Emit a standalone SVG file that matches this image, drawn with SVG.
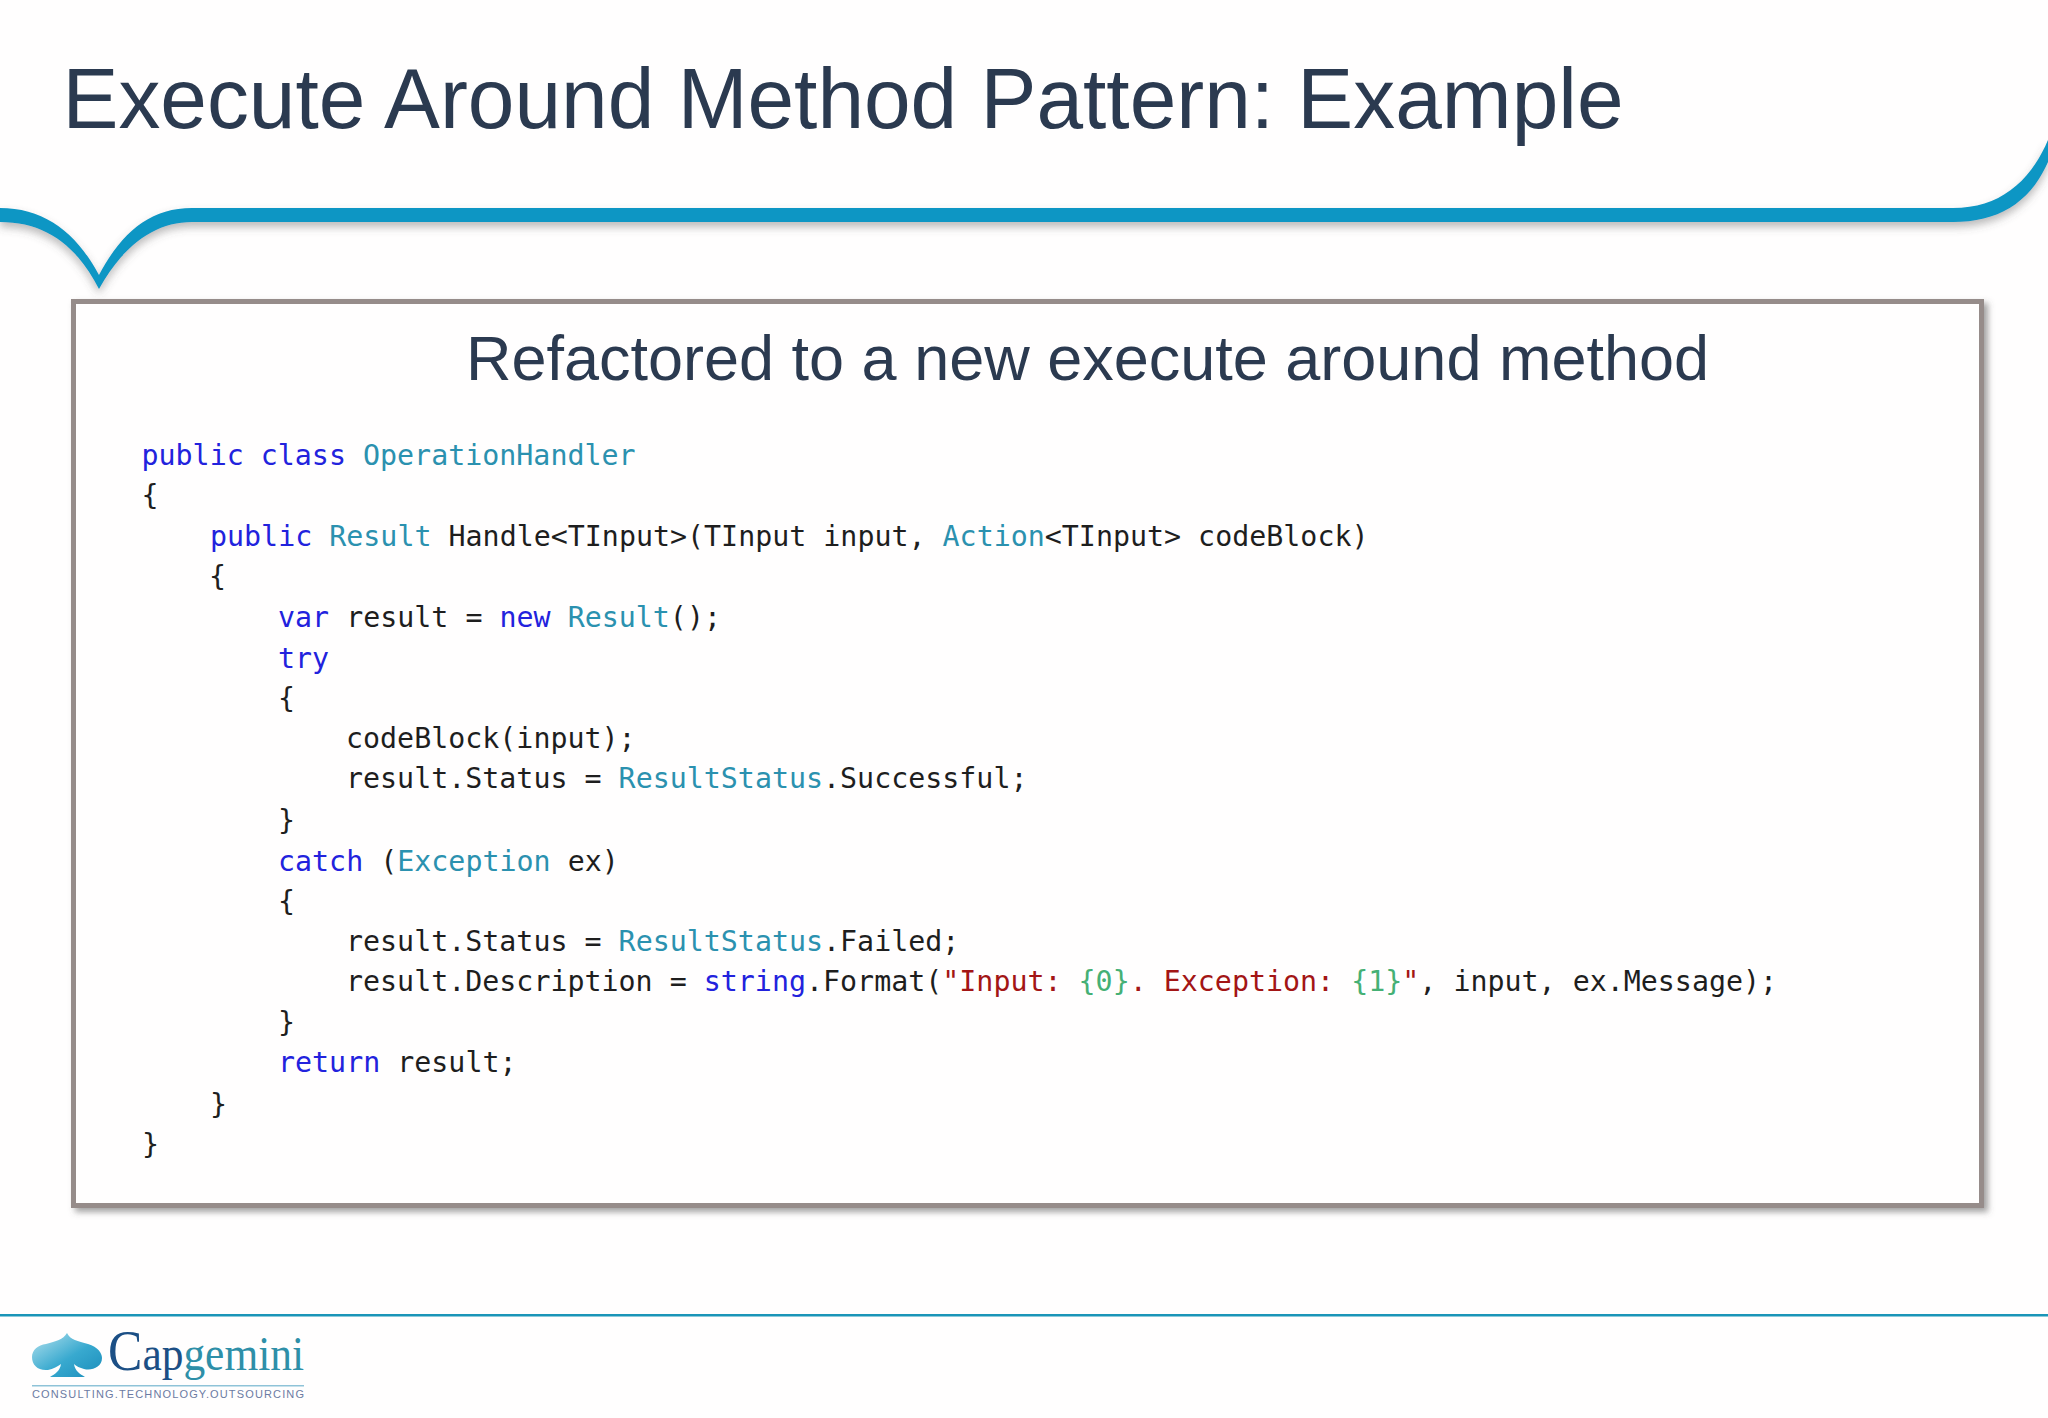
<svg xmlns="http://www.w3.org/2000/svg" width="2048" height="1418" viewBox="0 0 2048 1418">
<style>
.title{font-family:"Liberation Sans",Arial,sans-serif;fill:#2b3a50}
.code{font-family:"DejaVu Sans Mono","Liberation Mono",monospace;font-size:28.3px;fill:#1e1e1e;white-space:pre}
.k{fill:#2222dd}.t{fill:#2b91af}.s{fill:#a31515}.f{fill:#45b075}
</style>
<defs>
<filter id="sh" x="-5%" y="-5%" width="110%" height="110%"><feDropShadow dx="4" dy="4" stdDeviation="3" flood-color="#555" flood-opacity="0.55"/></filter>
<filter id="bs" x="-5%" y="-20%" width="110%" height="150%"><feDropShadow dx="0" dy="5" stdDeviation="4" flood-color="#555" flood-opacity="0.4"/></filter>
<linearGradient id="spade" x1="0" y1="0" x2="1" y2="1"><stop offset="0" stop-color="#b5e2ee"/><stop offset="0.55" stop-color="#38a9cf"/><stop offset="1" stop-color="#1b8dbb"/></linearGradient>
</defs>
<rect width="2048" height="1418" fill="#fffefe"/>
<path id="band" filter="url(#bs)" fill="#0a96c4" d="M0 208C44 208 76 232 99 275C122 232 150 208 192 208H1953C2000 208 2030 182 2048 140V162C2030 203 1998 222 1953 222H192C156 222 124 244 99 289C76 244 44 222 0 222Z"/>
<text id="title" class="title" x="62.500" y="128" font-size="86" textLength="1561" lengthAdjust="spacingAndGlyphs">Execute Around Method Pattern: Example</text>
<g id="panel">
<rect x="73.500" y="301.500" width="1908" height="904" fill="#fffefe" stroke="#968c8a" stroke-width="5" filter="url(#sh)"/>
<text class="title" x="466" y="379.500" font-size="63" textLength="1243" lengthAdjust="spacingAndGlyphs">Refactored to a new execute around method</text>
<g id="code" class="code">
<text x="141.500" y="465"><tspan class="k">public class</tspan> <tspan class="t">OperationHandler</tspan></text>
<text x="141.500" y="504.500">{</text>
<text x="210" y="545.500"><tspan class="k">public</tspan> <tspan class="t">Result</tspan> Handle&lt;TInput&gt;(TInput input, <tspan class="t">Action</tspan>&lt;TInput&gt; codeBlock)</text>
<text x="209" y="586">{</text>
<text x="278" y="626.500"><tspan class="k">var</tspan> result = <tspan class="k">new</tspan> <tspan class="t">Result</tspan>();</text>
<text x="278" y="667.500"><tspan class="k">try</tspan></text>
<text x="278" y="707.500">{</text>
<text x="346" y="748">codeBlock(input);</text>
<text x="346" y="787.500">result.Status = <tspan class="t">ResultStatus</tspan>.Successful;</text>
<text x="278" y="829.500">}</text>
<text x="278" y="870.500"><tspan class="k">catch</tspan> (<tspan class="t">Exception</tspan> ex)</text>
<text x="278" y="910.500">{</text>
<text x="346" y="951">result.Status = <tspan class="t">ResultStatus</tspan>.Failed;</text>
<text x="346" y="990.500">result.Description = <tspan class="k">string</tspan>.Format(<tspan class="s">"Input: </tspan><tspan class="f">{0}</tspan><tspan class="s">. Exception: </tspan><tspan class="f">{1}</tspan><tspan class="s">"</tspan>, input, ex.Message);</text>
<text x="278" y="1032">}</text>
<text x="278" y="1071.500"><tspan class="k">return</tspan> result;</text>
<text x="210" y="1113.500">}</text>
<text x="142" y="1154">}</text>
</g>
</g>
<g id="footer">
<rect x="0" y="1314" width="2048" height="2.500" fill="#1a95b8"/>
<path id="spade-logo" fill="url(#spade)" d="M67 1333C70 1340 78 1341 88 1344C98 1347 102 1353 102 1358C102 1367 92 1371 84 1369C80 1368 76 1366 74 1364C75 1371 80 1374 85 1377H50C55 1374 60 1371 61 1364C58 1366 53 1369 48 1370C38 1371 32 1365 32 1357C32 1350 38 1345 46 1344C56 1341 63 1340 67 1333Z"/>
<text font-family="Liberation Serif,serif" font-size="48" x="108" y="1370" textLength="196" lengthAdjust="spacingAndGlyphs"><tspan fill="#1c4f85" font-size="57">C</tspan><tspan fill="#1c4f85">ap</tspan><tspan fill="#2e8fa8">gemini</tspan></text>
<rect x="32" y="1385" width="272" height="1.500" fill="#8fc3d8"/>
<text font-family="Liberation Sans,sans-serif" font-size="11" fill="#6c7ba3" x="32" y="1398" textLength="272">CONSULTING.TECHNOLOGY.OUTSOURCING</text>
</g>
</svg>
